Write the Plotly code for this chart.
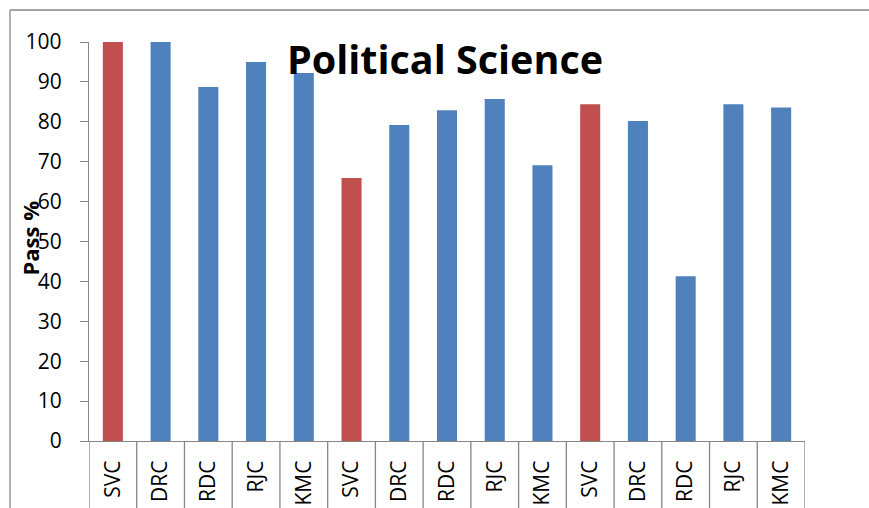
import plotly.graph_objects as go

colleges = ["SVC", "DRC", "RDC", "RJC", "KMC",
            "SVC", "DRC", "RDC", "RJC", "KMC",
            "SVC", "DRC", "RDC", "RJC", "KMC"]
pass_pct = [100, 100, 88.7, 95.0, 92.2,
            65.9, 79.2, 82.9, 85.7, 69.1,
            84.4, 80.2, 41.3, 84.4, 83.6]
y_ticks = [0, 10, 20, 30, 40, 50, 60, 70, 80, 90, 100]

RED = "#C0504D"
BLUE = "#4F81BD"
GRAY = "#868686"

W, H = 869, 508
L, R, T, B = 89, 64, 42, 67
pw, ph = W - L - R, H - T - B

xs = list(range(len(colleges)))
colors = [RED if c == "SVC" else BLUE for c in colleges]

fig = go.Figure(go.Bar(
    x=xs, y=pass_pct, marker=dict(color=colors, line=dict(width=0)),
    width=0.42,
))

shapes = []
# category separators extending below the axis
for i in range(len(colleges) + 1):
    shapes.append(dict(type="line", xref="x", yref="paper",
                       x0=i - 0.5, x1=i - 0.5, y0=0, y1=-(B + 5) / ph,
                       line=dict(color=GRAY, width=1.3)))
# outer chart border (top and left)
bx = (10 - L) / pw
by = 1 + (T - 10) / ph
shapes.append(dict(type="line", xref="paper", yref="paper",
                   x0=bx, x1=(W + 5 - L) / pw, y0=by, y1=by,
                   line=dict(color=GRAY, width=1.3)))
shapes.append(dict(type="line", xref="paper", yref="paper",
                   x0=bx, x1=bx, y0=by, y1=-(B + 5) / ph,
                   line=dict(color=GRAY, width=1.3)))

fig.update_layout(
    width=W, height=H,
    margin=dict(l=L, r=R, t=T, b=B, autoexpand=False),
    paper_bgcolor="white", plot_bgcolor="white",
    showlegend=False,
    font=dict(family="Open Sans", color="black"),
    title=dict(text="<b>Political Science</b>", font=dict(size=39.5, family="Open Sans", color="black"),
               x=445 / W, xanchor="center", xref="container",
               y=1 - 60 / H, yanchor="middle", yref="container"),
    xaxis=dict(range=[-0.5, len(colleges) - 0.5], tickmode="array", tickvals=xs, ticktext=colleges,
               tickangle=-90, ticks="", showline=True, linecolor=GRAY, linewidth=1.3,
               tickfont=dict(size=21, family="Open Sans", color="black"), automargin=False,
               showgrid=False, zeroline=False, ticklabelstandoff=10),
    yaxis=dict(range=[0, 100], tickmode="array", tickvals=y_ticks, automargin=False,
               ticks="outside", ticklen=8, tickcolor=GRAY, tickwidth=1.3,
               showline=True, linecolor=GRAY, linewidth=1.3,
               tickfont=dict(size=21, family="Open Sans", color="black"),
               showgrid=False, zeroline=False, ticklabelstandoff=14),
    shapes=shapes,
    annotations=[dict(text="<b>Pass %</b>", textangle=-90, xref="paper", yref="paper",
                      x=0, y=0.5, xanchor="center", yanchor="middle", xshift=29 - L, yshift=3,
                      showarrow=False, font=dict(size=22, family="Open Sans", color="black"))],
)

fig.write_html("out.html", config={"displayModeBar": False},
               post_script="document.body.style.margin='0';document.body.style.overflow='hidden';")
